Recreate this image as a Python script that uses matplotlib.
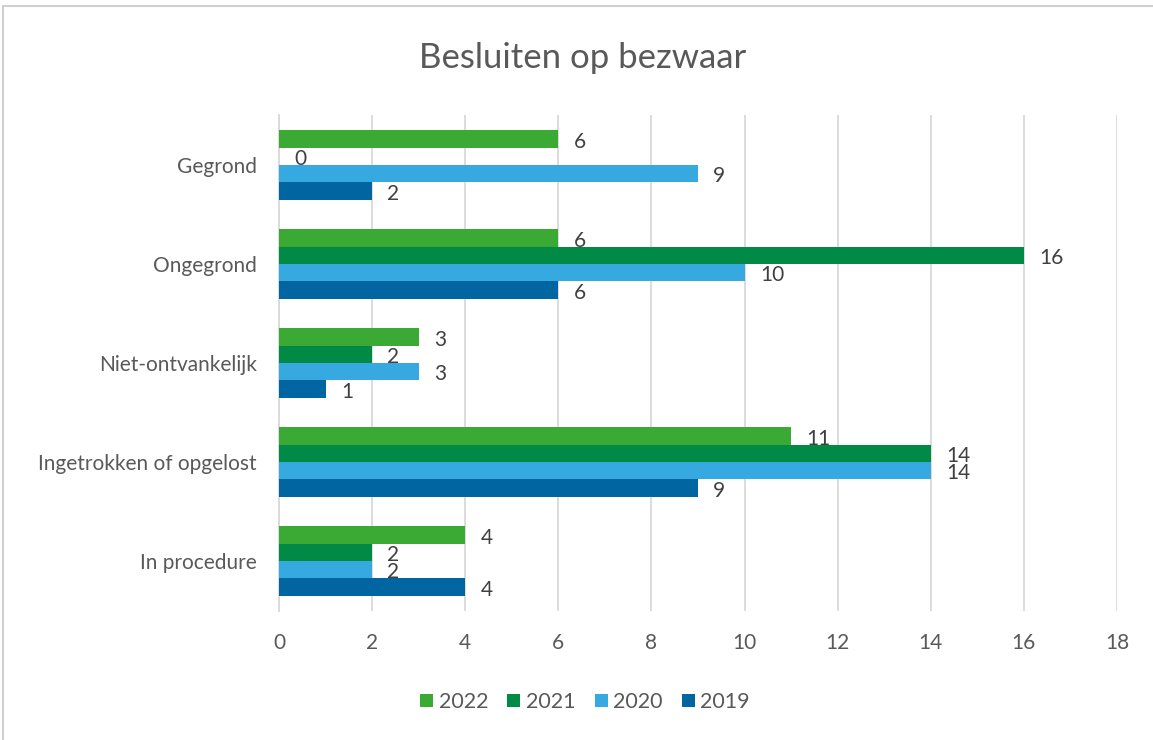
import numpy as np
import matplotlib.pyplot as plt
from matplotlib.patches import Rectangle

categories = ['Gegrond', 'Ongegrond', 'Niet-ontvankelijk', 'Ingetrokken of opgelost', 'In procedure']
jaren = ['2022', '2021', '2020', '2019']
waarden_2022 = [6, 6, 3, 11, 4]
waarden_2021 = [0, 16, 2, 14, 2]
waarden_2020 = [9, 10, 3, 14, 2]
waarden_2019 = [2, 6, 1, 9, 4]
kleuren = ['#3aaa35', '#008a45', '#36a9e1', '#0065a1']

plt.rcParams['font.family'] = ['Lato', 'DejaVu Sans']

fig = plt.figure(figsize=(11.53, 7.4), dpi=100)
ax = fig.add_axes([279 / 1153, 1 - 610.5 / 740, (1117 - 279) / 1153, 495 / 740])

series = [waarden_2022, waarden_2021, waarden_2020, waarden_2019]
y = np.arange(len(categories))
h = 0.175
for i, (vals, jaar, kleur) in enumerate(zip(series, jaren, kleuren)):
    pos = y - 1.5 * h + i * h
    bars = ax.barh(pos, vals, height=h, color=kleur, label=jaar, zorder=3)
    for b, v in zip(bars, vals):
        ax.annotate(str(v), (v, b.get_y() + h / 2), xytext=(11, -2), textcoords='offset points',
                    va='center', ha='left', fontsize=15, color='#404040')

ax.set_xlim(0, 18)
ax.set_ylim(len(categories) - 0.5, -0.5)
ax.set_xticks(range(0, 19, 2))
ax.set_yticks(y)
ax.set_yticklabels(categories)
ax.tick_params(axis='both', length=0, labelsize=15, labelcolor='#595959')
ax.tick_params(axis='x', pad=16)
ax.tick_params(axis='y', pad=16)
ax.grid(axis='x', color='#d9d9d9', linewidth=1.3, zorder=0)
for s in ['top', 'right', 'bottom']:
    ax.spines[s].set_visible(False)
ax.spines['left'].set_color('#d9d9d9')
ax.spines['left'].set_linewidth(1.3)

fig.text(583 / 1153, 1 - 58 / 740, 'Besluiten op bezwaar', ha='center', va='center',
         fontsize=25, color='#595959')

ax.legend(loc='center', bbox_to_anchor=(585 / 1153, 1 - 702 / 740), bbox_transform=fig.transFigure,
          ncol=4, frameon=False, fontsize=15.5, labelcolor='#595959', handlelength=0.6, handleheight=0.6,
          handletextpad=0.25, columnspacing=0.9)

fig.patches.append(Rectangle((3 / 1153, -0.1), 1.2, 1 - 6 / 740 + 0.1, transform=fig.transFigure,
                             fill=False, edgecolor='#d0d0d0', linewidth=1.5))

fig.savefig('out.png', dpi=100)
